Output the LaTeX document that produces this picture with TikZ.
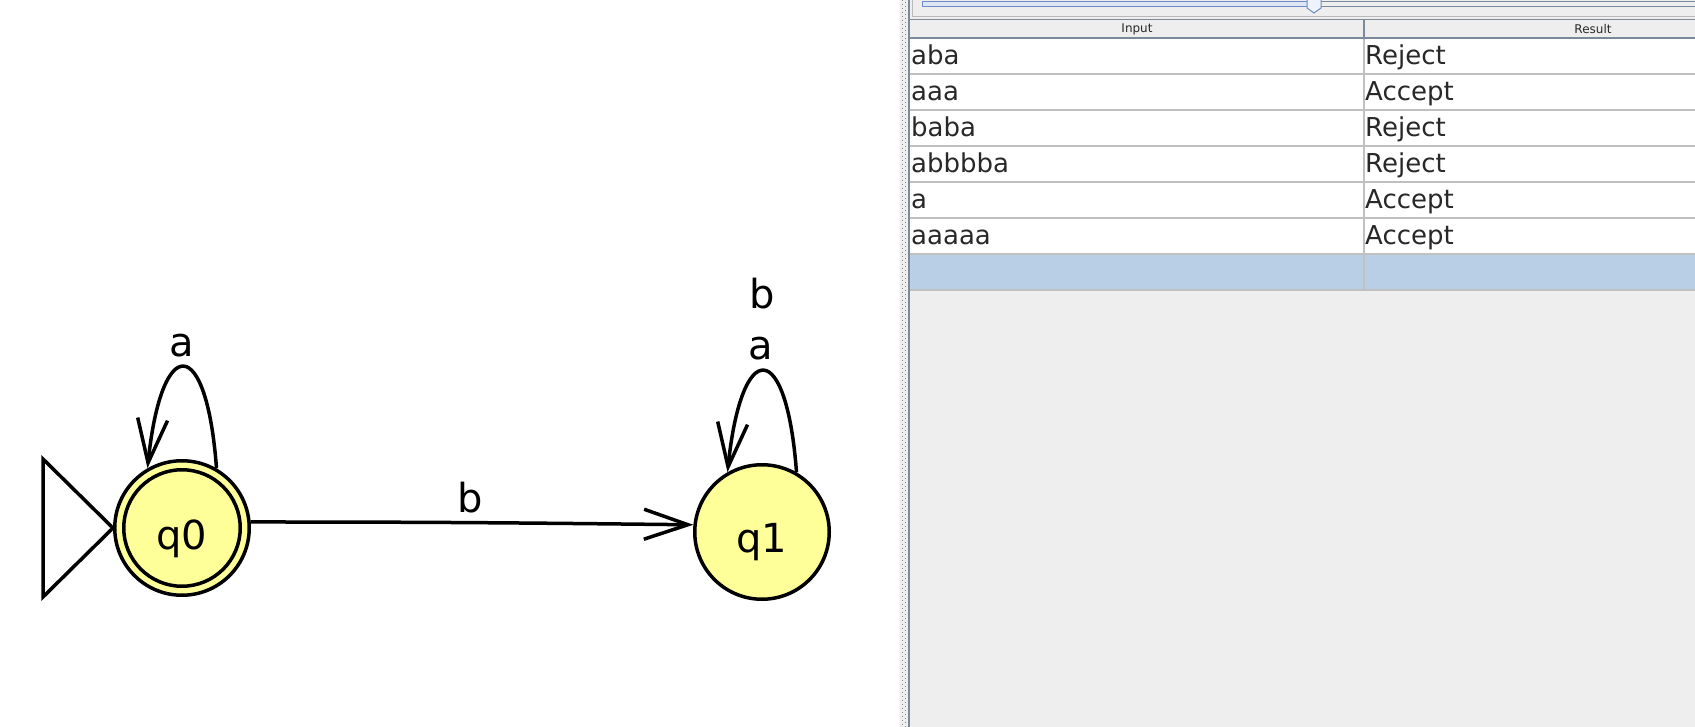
\documentclass[tikz,border=0pt]{standalone}
\usepackage{fontspec}
\setmainfont{DejaVu Sans}
\usetikzlibrary{arrows.meta}
\definecolor{stateyellow}{HTML}{FFFF99}
\definecolor{panelgray}{HTML}{EEEEEE}
\definecolor{slate}{RGB}{122,138,155}
\definecolor{gridgray}{RGB}{192,192,192}
\definecolor{selblue}{RGB}{184,207,229}
\definecolor{txtgray}{RGB}{40,40,40}
\definecolor{dotgray}{RGB}{140,140,140}
\definecolor{trackblue}{RGB}{110,140,200}
\definecolor{tracklight}{RGB}{221,231,244}
\definecolor{thumbfill}{RGB}{238,243,251}
\begin{document}
\begin{tikzpicture}[x=1pt,y=-1pt,
  state/.style={circle, draw=black, line width=3.5pt, fill=stateyellow,
    minimum size=134.5pt, inner sep=0pt, font=\fontsize{40}{48}\selectfont},
  trans/.style={draw=black, line width=3.5pt,
    -{Straight Barb[length=44pt,width=30pt]}},
  lbl/.style={inner sep=0pt, font=\fontsize{40}{48}\selectfont},
  cell/.style={inner sep=0pt, anchor=base west, text=txtgray,
    font=\fontsize{26}{30}\selectfont},
  headtext/.style={inner sep=0pt, text=txtgray, font=\fontsize{12}{14}\selectfont},
  gridline/.style={draw=gridgray, line width=1.5pt},
  slateline/.style={draw=slate, line width=1.5pt}]
\useasboundingbox (0,0) rectangle (1695,727);
\fill[white] (0,0) rectangle (900,727);

% ---------- automaton ----------
\node[state] (q0) at (182,528) {\raisebox{-10.5pt}[\height][\depth]{q0}};
\draw[line width=3.5pt] (q0.center) circle[radius=58.25];
\node[state] (q1) at (762,532) {\raisebox{-10.5pt}[\height][\depth]{q1}};

% initial-state triangle
\draw[line width=3.5pt, line join=miter] (q0.west) -- +(-70,-69) -- +(-70,69) -- cycle;

% transitions
\draw[trans] (q0.60) .. controls +(-10,-135) and +(14,-135) .. (q0.120);
\draw[trans] (q1.60) .. controls +(-10,-135) and +(14,-135) .. (q1.120);
\draw[trans] (q0.5) .. controls +(180,0) and +(-180,-2) .. (q1.174);

\node[lbl] (la0) at (182,346) {a};
\node[lbl] (lb01) at (470,498) {b};
\node[lbl] (la1) at (761,349) {a};
\node[lbl] (lb1) at (762,294) {b};

% ---------- right panel ----------
\fill[panelgray] (900,0) rectangle (1695,727);
\draw[dotgray, line width=1pt, dash pattern=on 1pt off 3pt] (902.5,0) -- (902.5,727);
\draw[dotgray, line width=1pt, dash pattern=on 1pt off 3pt, dash phase=2pt] (905.5,0) -- (905.5,727);
\fill[slate] (908,0) rectangle (910,727);

% slider strip
\draw[gray!55, line width=1pt] (912,0) -- (912,16.5) -- (1695,16.5);
\draw[trackblue, line width=1pt, fill=tracklight] (922,1.5) rectangle (1310,7);
\draw[slate, line width=1pt] (1321,2) -- (1695,2);
\draw[slate, line width=1pt] (1321,7) -- (1695,7);
\draw[trackblue, line width=1pt, fill=thumbfill] (1307,-1) -- (1307,8) -- (1314,13) -- (1321,8) -- (1321,-1);

% header
\fill[panelgray] (910,19.5) rectangle (1695,38);
\draw[slateline] (910,19.5) -- (1695,19.5);
\draw[slateline] (910,38) -- (1695,38);
\draw[slateline] (1364,19.5) -- (1364,38);
\node[headtext] (hin) at (1137,29) {Input};
\node[headtext] (hres) at (1593,29) {Result};

% body
\fill[white] (910,38.75) rectangle (1695,254);
\fill[selblue] (910,254) rectangle (1695,290);
\foreach \yy in {74,110,146,182,218,254,290} {
  \draw[gridline] (910,\yy) -- (1695,\yy);
}
\draw[gridline] (1364,38.75) -- (1364,290);

\foreach \i/\inp/\res in {1/aba/Reject, 2/aaa/Accept, 3/baba/Reject,
    4/abbbba/Reject, 5/a/Accept, 6/aaaaa/Accept} {
  \node[cell] (in\i) at (911,{29+36*\i}) {\inp};
  \node[cell] (res\i) at (1365,{29+36*\i}) {\res};
}
\end{tikzpicture}
\end{document}
